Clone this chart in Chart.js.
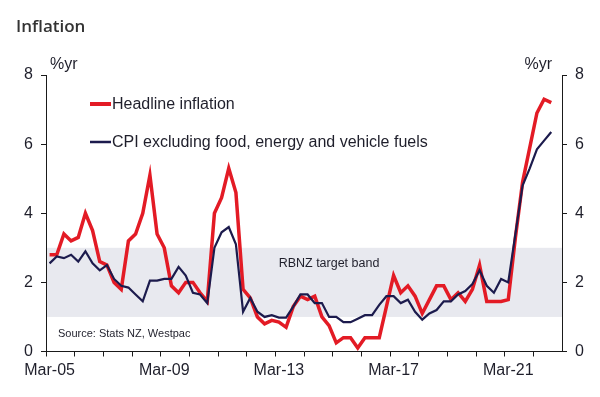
<!DOCTYPE html>
<html>
<head>
<meta charset="utf-8">
<title>Inflation</title>
<script src="https://cdn.jsdelivr.net/npm/chart.js@4.4.0/dist/chart.umd.min.js"></script>
<style>
  html, body { margin: 0; padding: 0; background: #fff; }
  #wrap { position: relative; width: 600px; height: 397px; }
</style>
</head>
<body>
<div id="wrap"><canvas id="myChart" width="600" height="397"></canvas></div>
<script>
'use strict';

// quarters Mar-05 .. Dec-22 (last slot left empty like the original)
const years = ['05', '06', '07', '08', '09', '10', '11', '12', '13', '14', '15', '16', '17', '18', '19', '20', '21', '22'];
const months = ['Mar', 'Jun', 'Sep', 'Dec'];

const headline = [
  2.8, 2.8, 3.4, 3.2,
  3.3, 4.0, 3.5, 2.6,
  2.5, 2.0, 1.8, 3.2,
  3.4, 4.0, 5.1, 3.4,
  3.0, 1.9, 1.7, 2.0,
  2.0, 1.7, 1.45, 4.0,
  4.45, 5.3, 4.6, 1.8,
  1.55, 1.0, 0.8, 0.9,
  0.85, 0.7, 1.3, 1.6,
  1.5, 1.6, 1.0, 0.75,
  0.25, 0.4, 0.4, 0.1,
  0.4, 0.4, 0.4, 1.3,
  2.2, 1.7, 1.9, 1.6,
  1.1, 1.5, 1.9, 1.9,
  1.5, 1.7, 1.45, 1.8,
  2.5, 1.45, 1.45, 1.45,
  1.5, 3.3, 4.9, 5.9,
  6.9, 7.3, 7.2
];

const coreCpi = [
  2.55, 2.75, 2.7, 2.8,
  2.6, 2.9, 2.55, 2.35,
  2.5, 2.1, 1.9, 1.85,
  1.65, 1.45, 2.05, 2.05,
  2.1, 2.1, 2.45, 2.2,
  1.7, 1.65, 1.4, 3.0,
  3.45, 3.6, 3.1, 1.15,
  1.55, 1.15, 1.0, 1.05,
  0.98, 0.98, 1.3, 1.65,
  1.65, 1.4, 1.4, 1.0,
  1.0, 0.85, 0.85, 0.95,
  1.05, 1.05, 1.35, 1.6,
  1.6, 1.4, 1.5, 1.15,
  0.92, 1.1, 1.2, 1.45,
  1.45, 1.65, 1.75, 1.95,
  2.35, 1.9, 1.7, 2.1,
  2.0, 3.4, 4.8, 5.3,
  5.85, 6.1, 6.35
];

const yTicks = [0, 2, 4, 6, 8];
const targetBand = [1, 3];

const seriesNames = ['Headline inflation', 'CPI excluding food, energy and vehicle fuels'];
const seriesColors = ['#e31b25', '#1c1b4d'];

const axisColor = '#1a1a1a';
const textColor = '#1f1f2b';
const tickFont = { family: '"Liberation Sans", Arial, sans-serif', size: 16 };

const quarterLabels = [];
for (let year of years) {
  for (let month of months) {
    quarterLabels.push(month + '-' + year);
  }
}

const decorations = {
  id: 'decorations',
  beforeDraw: function(chart) {
    const c = chart.ctx;
    const area = chart.chartArea;
    const y = chart.scales.y;
    const top = y.getPixelForValue(targetBand[1]);
    const bottom = y.getPixelForValue(targetBand[0]);

    c.save();
    c.fillStyle = '#e8e9ef';
    c.fillRect(area.left, top, area.right - area.left, bottom - top);

    c.fillStyle = textColor;
    c.font = '12.5px "Liberation Sans", Arial, sans-serif';
    c.textAlign = 'center';
    c.textBaseline = 'middle';
    c.fillText('RBNZ target band', 329, 264);

    c.font = '11px "Liberation Sans", Arial, sans-serif';
    c.textAlign = 'left';
    c.fillText('Source: Stats NZ, Westpac', 58, 334);
    c.restore();
  },
  afterDraw: function(chart) {
    const c = chart.ctx;
    c.save();

    // title
    c.fillStyle = '#333333';
    c.font = '600 17px "Open Sans", sans-serif';
    c.textAlign = 'left';
    c.textBaseline = 'alphabetic';
    c.fillText('Inflation', 16, 31.5);

    // units
    c.fillStyle = textColor;
    c.font = '16px "Liberation Sans", Arial, sans-serif';
    c.fillText('%yr', 50, 69);
    c.textAlign = 'right';
    c.fillText('%yr', 552, 69);

    // legend
    const rows = [104, 142];
    const widths = [4, 2.5];
    c.textAlign = 'left';
    c.textBaseline = 'middle';
    for (let i = 0; i < seriesNames.length; i++) {
      c.strokeStyle = seriesColors[i];
      c.lineWidth = widths[i];
      c.beginPath();
      c.moveTo(90, rows[i]);
      c.lineTo(111, rows[i]);
      c.stroke();
      c.fillStyle = textColor;
      c.fillText(seriesNames[i], 112, rows[i] + 1);
    }
    c.restore();
  }
};

const yAxis = function(position) {
  return {
    type: 'linear',
    position: position,
    min: 0,
    max: 8,
    afterBuildTicks: function(scale) {
      scale.ticks = yTicks.map(function(v) { return { value: v }; });
    },
    afterFit: function(scale) {
      scale.width = position === 'left' ? 46 : 38;
    },
    border: { display: true, color: axisColor, width: 1 },
    grid: {
      drawOnChartArea: false,
      drawTicks: true,
      tickLength: 5,
      color: axisColor
    },
    ticks: {
      color: textColor,
      font: tickFont,
      padding: 8
    }
  };
};

const initChart = function() {
  var ctx = document.getElementById('myChart').getContext('2d');

  // eslint-disable-next-line no-undef, no-unused-vars
  var myChart = new Chart(ctx, {
    type: 'line',
    data: {
      labels: quarterLabels,
      datasets: [
        {
          label: seriesNames[0],
          data: headline,
          borderColor: seriesColors[0],
          borderWidth: 3.5,
          pointRadius: 0,
          tension: 0,
          order: 1
        },
        {
          label: seriesNames[1],
          data: coreCpi,
          borderColor: seriesColors[1],
          borderWidth: 2.2,
          pointRadius: 0,
          tension: 0,
          order: 0
        }
      ]
    },
    options: {
      responsive: false,
      animation: false,
      events: [],
      layout: {
        padding: { top: 75, left: 0, right: 0, bottom: 0 }
      },
      plugins: {
        legend: { display: false },
        tooltip: { enabled: false }
      },
      scales: {
        x: {
          type: 'category',
          offset: true,
          afterFit: function(scale) {
            scale.height = 45.5;
          },
          border: { display: true, color: axisColor, width: 1 },
          grid: {
            offset: true,
            drawOnChartArea: false,
            drawTicks: true,
            tickLength: 5,
            color: function(context) {
              return context.index % 4 === 0 ? axisColor : 'rgba(0,0,0,0)';
            }
          },
          ticks: {
            autoSkip: false,
            maxRotation: 0,
            color: textColor,
            font: tickFont,
            padding: 4,
            callback: function(value, index) {
              return index % 16 === 0 ? quarterLabels[index] : '';
            }
          }
        },
        y: yAxis('left'),
        y2: yAxis('right')
      }
    },
    plugins: [decorations]
  });
};

initChart();
</script>
</body>
</html>
